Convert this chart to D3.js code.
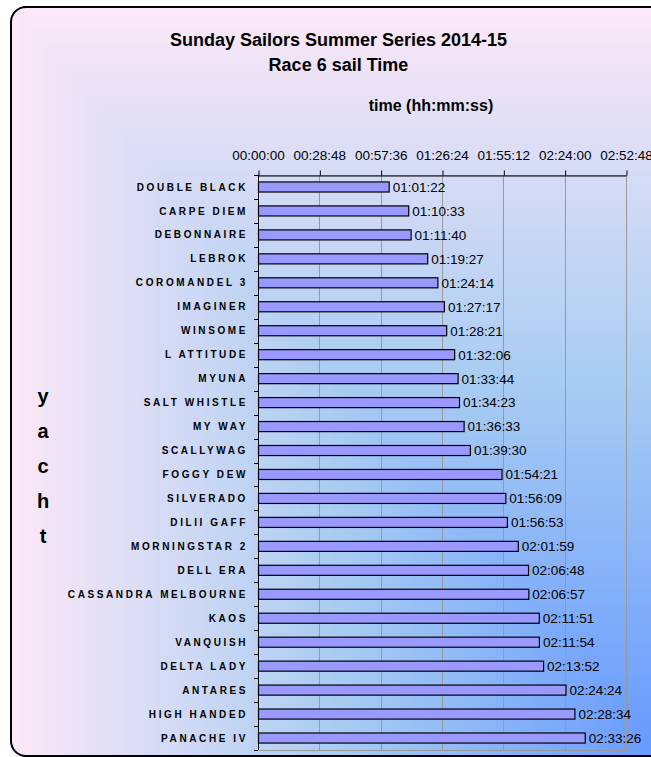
<!DOCTYPE html>
<html>
<head>
<meta charset="utf-8">
<script src="https://cdn.jsdelivr.net/npm/d3@7"></script>
<style>
  body { margin: 0; background: #fff; }
  svg text { font-family: "Liberation Sans", Arial, sans-serif; fill: #000; }
</style>
</head>
<body>
<script>
// race 6 results, in finishing order
const yachts = ["DOUBLE BLACK", "CARPE DIEM", "DEBONNAIRE", "LEBROK", "COROMANDEL 3", "IMAGINER",
    "WINSOME", "L ATTITUDE", "MYUNA", "SALT WHISTLE", "MY WAY", "SCALLYWAG", "FOGGY DEW",
    "SILVERADO", "DILII GAFF", "MORNINGSTAR 2", "DELL ERA", "CASSANDRA MELBOURNE", "KAOS",
    "VANQUISH", "DELTA LADY", "ANTARES", "HIGH HANDED", "PANACHE IV"]

const sailTimes = ["01:01:22", "01:10:33", "01:11:40", "01:19:27", "01:24:14", "01:27:17",
    "01:28:21", "01:32:06", "01:33:44", "01:34:23", "01:36:33", "01:39:30", "01:54:21",
    "01:56:09", "01:56:53", "02:01:59", "02:06:48", "02:06:57", "02:11:51",
    "02:11:54", "02:13:52", "02:24:24", "02:28:34", "02:33:26"]

const tickLabels = ["00:00:00", "00:28:48", "00:57:36", "01:26:24", "01:55:12", "02:24:00", "02:52:48"]

const titleLines = ["Sunday Sailors Summer Series 2014-15", "Race 6 sail Time"]
const xTitle = "time (hh:mm:ss)"
const yTitle = "yacht"

const toSeconds = s => {
    const p = s.split(":").map(Number)
    return p[0] * 3600 + p[1] * 60 + p[2]
}

const data = yachts.map((name, i) => ({name, label: sailTimes[i], value: toSeconds(sailTimes[i])}))
const tickValues = tickLabels.map(toSeconds)

const width = 651,
    height = 757
const plot = {left: 258, right: 626, top: 175, bottom: 750}
const frame = {x: 11, y: 7, w: 656, h: 749, r: 15}

const svg = d3.select("body").append("svg")
    .attr("width", width)
    .attr("height", height)

// background: corner gradient, pink top-left to blue bottom-right
const defs = svg.append("defs")
defs.append("clipPath").attr("id", "frameClip")
    .append("rect")
    .attr("x", frame.x).attr("y", frame.y)
    .attr("width", frame.w).attr("height", frame.h)
    .attr("rx", frame.r)

const bg = d3.scaleLinear()
    .domain([0, 0.5, 1])
    .range(["#fce8f8", "#a8ccf2", "#6699ff"])

const nSteps = 180
svg.append("g")
    .attr("clip-path", "url(#frameClip)")
    .selectAll("rect")
    .data(d3.range(nSteps).map(i => i / nSteps))
    .join("rect")
    .attr("x", t => frame.x + t * frame.w)
    .attr("y", t => frame.y + t * frame.h)
    .attr("width", t => frame.w * (1 - t) + 1)
    .attr("height", t => frame.h * (1 - t) + 1)
    .attr("fill", t => bg(t + 0.5 / nSteps))
    .attr("shape-rendering", "crispEdges")

svg.append("rect")
    .attr("x", frame.x).attr("y", frame.y)
    .attr("width", frame.w).attr("height", frame.h)
    .attr("rx", frame.r)
    .attr("fill", "none")
    .attr("stroke", "#000")
    .attr("stroke-width", 2)

// scales
const x = d3.scaleLinear()
    .domain([0, d3.max(tickValues)])
    .range([plot.left, plot.right])

const y = d3.scaleBand()
    .domain(yachts)
    .range([plot.top, plot.bottom])
    .paddingInner(0.58)
    .paddingOuter(0.29)

// gridlines + plot border
svg.append("g")
    .selectAll("line")
    .data(tickValues.slice(1))
    .join("line")
    .attr("x1", d => Math.round(x(d)) + 0.5)
    .attr("x2", d => Math.round(x(d)) + 0.5)
    .attr("y1", plot.top)
    .attr("y2", plot.bottom)
    .attr("stroke", "#999")

svg.append("rect")
    .attr("x", plot.left + 0.5)
    .attr("y", plot.top + 0.5)
    .attr("width", plot.right - plot.left)
    .attr("height", plot.bottom - plot.top)
    .attr("fill", "none")
    .attr("stroke", "#999")

// bars
svg.append("g")
    .selectAll("rect")
    .data(data)
    .join("rect")
    .attr("x", plot.left + 0.5)
    .attr("y", d => y(d.name))
    .attr("width", d => x(d.value) - plot.left)
    .attr("height", y.bandwidth())
    .attr("fill", "#9999ff")
    .attr("stroke", "#000")
    .attr("stroke-width", 1.2)

svg.append("g")
    .selectAll("text")
    .data(data)
    .join("text")
    .attr("x", d => x(d.value) + 4)
    .attr("y", d => y(d.name) + y.bandwidth() / 2)
    .attr("dy", "0.36em")
    .attr("font-size", 13.5)
    .text(d => d.label)

// top axis
const xAxis = svg.append("g")
    .attr("transform", `translate(0,${plot.top + 0.5})`)
    .call(d3.axisTop(x)
        .tickValues(tickValues)
        .tickFormat((d, i) => tickLabels[i])
        .tickSize(5)
        .tickSizeOuter(0)
        .tickPadding(11))
xAxis.selectAll("line").attr("stroke", "#000").attr("transform", "translate(0.5,0)")
xAxis.select(".domain").attr("stroke", "#000")
xAxis.selectAll("text")
    .attr("font-size", 13.5)
    .attr("font-family", null)
    .attr("fill", "#000")

// left axis: line with ticks between categories
const leftAxis = svg.append("g")
leftAxis.append("line")
    .attr("x1", plot.left + 0.5).attr("x2", plot.left + 0.5)
    .attr("y1", plot.top).attr("y2", plot.bottom)
    .attr("stroke", "#000")
const boundaries = yachts.map(n => y(n) + y.bandwidth() / 2 - y.step() / 2)
    .concat([y(yachts[yachts.length - 1]) + y.bandwidth() / 2 + y.step() / 2])
leftAxis.selectAll(".tick")
    .data(boundaries)
    .join("line")
    .attr("class", "tick")
    .attr("x1", plot.left - 4).attr("x2", plot.left)
    .attr("y1", d => Math.round(d) + 0.5).attr("y2", d => Math.round(d) + 0.5)
    .attr("stroke", "#000")

leftAxis.selectAll("text")
    .data(yachts)
    .join("text")
    .attr("x", 248)
    .attr("y", d => y(d) + y.bandwidth() / 2)
    .attr("dy", "0.36em")
    .attr("text-anchor", "end")
    .attr("font-size", 10)
    .attr("font-weight", "bold")
    .attr("letter-spacing", "2.6px")
    .text(d => d)

// titles
svg.append("g")
    .selectAll("text")
    .data(titleLines)
    .join("text")
    .attr("x", 338.5)
    .attr("y", (d, i) => 46 + i * 25)
    .attr("text-anchor", "middle")
    .attr("font-size", 18)
    .attr("font-weight", "bold")
    .text(d => d)

svg.append("text")
    .attr("x", 431)
    .attr("y", 111)
    .attr("text-anchor", "middle")
    .attr("font-size", 16)
    .attr("font-weight", "bold")
    .text(xTitle)

svg.append("g")
    .selectAll("text")
    .data(yTitle.split(""))
    .join("text")
    .attr("x", 43)
    .attr("y", (d, i) => 403 + i * 35)
    .attr("text-anchor", "middle")
    .attr("font-size", 20)
    .attr("font-weight", "bold")
    .text(d => d)
</script>
</body>
</html>
